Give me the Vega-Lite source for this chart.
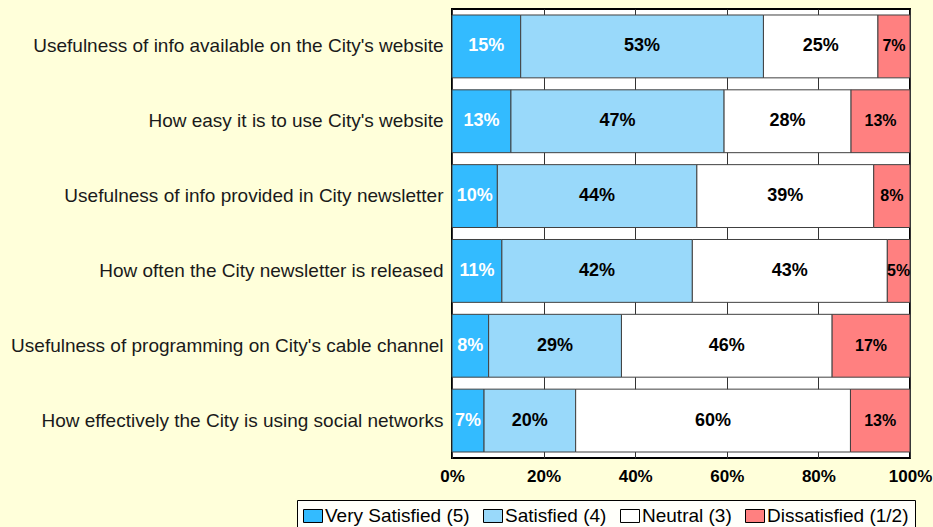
{
  "$schema": "https://vega.github.io/schema/vega-lite/v6.json",
  "width": 458,
  "height": 449,
  "autosize": {"type": "none"},
  "padding": {"left": 452, "top": 9, "right": 23, "bottom": 69},
  "background": "#FFFFDA",
  "config": {
    "font": "Liberation Sans",
    "view": {"stroke": "#000000", "strokeWidth": 2, "fill": "#FFFFFF"}
  },
  "data": {
    "values": [
      {"q": "Usefulness of info available on the City's website", "cat": "Very Satisfied (5)", "o": 1, "v": 0.15},
      {"q": "Usefulness of info available on the City's website", "cat": "Satisfied (4)", "o": 2, "v": 0.53},
      {"q": "Usefulness of info available on the City's website", "cat": "Neutral (3)", "o": 3, "v": 0.25},
      {"q": "Usefulness of info available on the City's website", "cat": "Dissatisfied (1/2)", "o": 4, "v": 0.07},
      {"q": "How easy it is to use City's website", "cat": "Very Satisfied (5)", "o": 1, "v": 0.13},
      {"q": "How easy it is to use City's website", "cat": "Satisfied (4)", "o": 2, "v": 0.47},
      {"q": "How easy it is to use City's website", "cat": "Neutral (3)", "o": 3, "v": 0.28},
      {"q": "How easy it is to use City's website", "cat": "Dissatisfied (1/2)", "o": 4, "v": 0.13},
      {"q": "Usefulness of info provided in City newsletter", "cat": "Very Satisfied (5)", "o": 1, "v": 0.10},
      {"q": "Usefulness of info provided in City newsletter", "cat": "Satisfied (4)", "o": 2, "v": 0.44},
      {"q": "Usefulness of info provided in City newsletter", "cat": "Neutral (3)", "o": 3, "v": 0.39},
      {"q": "Usefulness of info provided in City newsletter", "cat": "Dissatisfied (1/2)", "o": 4, "v": 0.08},
      {"q": "How often the City newsletter is released", "cat": "Very Satisfied (5)", "o": 1, "v": 0.11},
      {"q": "How often the City newsletter is released", "cat": "Satisfied (4)", "o": 2, "v": 0.42},
      {"q": "How often the City newsletter is released", "cat": "Neutral (3)", "o": 3, "v": 0.43},
      {"q": "How often the City newsletter is released", "cat": "Dissatisfied (1/2)", "o": 4, "v": 0.05},
      {"q": "Usefulness of programming on City's cable channel", "cat": "Very Satisfied (5)", "o": 1, "v": 0.08},
      {"q": "Usefulness of programming on City's cable channel", "cat": "Satisfied (4)", "o": 2, "v": 0.29},
      {"q": "Usefulness of programming on City's cable channel", "cat": "Neutral (3)", "o": 3, "v": 0.46},
      {"q": "Usefulness of programming on City's cable channel", "cat": "Dissatisfied (1/2)", "o": 4, "v": 0.17},
      {"q": "How effectively the City is using social networks", "cat": "Very Satisfied (5)", "o": 1, "v": 0.07},
      {"q": "How effectively the City is using social networks", "cat": "Satisfied (4)", "o": 2, "v": 0.20},
      {"q": "How effectively the City is using social networks", "cat": "Neutral (3)", "o": 3, "v": 0.60},
      {"q": "How effectively the City is using social networks", "cat": "Dissatisfied (1/2)", "o": 4, "v": 0.13}
    ]
  },
  "encoding": {
    "y": {
      "field": "q",
      "type": "nominal",
      "sort": null,
      "scale": {"paddingInner": 0.16, "paddingOuter": 0.08},
      "axis": {
        "title": null,
        "domain": false,
        "ticks": false,
        "labelFontSize": 19,
        "labelColor": "#1a1a1a",
        "labelPadding": 9,
        "labelLimit": 600
      }
    }
  },
  "layer": [
    {
      "mark": {"type": "bar", "stroke": "#404040", "strokeWidth": 1},
      "encoding": {
        "x": {
          "field": "v",
          "type": "quantitative",
          "stack": "normalize",
          "scale": {"domain": [0, 1]},
          "axis": {
            "title": null,
            "format": ".0%",
            "values": [0, 0.2, 0.4, 0.6, 0.8, 1],
            "domain": false,
            "ticks": false,
            "grid": true,
            "gridColor": "#333333",
            "gridWidth": 1,
            "labelFontSize": 17,
            "labelFontWeight": "bold",
            "labelColor": "#000000",
            "labelPadding": 10,
            "labelFlush": false
          }
        },
        "order": {"field": "o", "type": "quantitative"},
        "color": {
          "field": "cat",
          "type": "nominal",
          "sort": null,
          "scale": {
            "domain": ["Very Satisfied (5)", "Satisfied (4)", "Neutral (3)", "Dissatisfied (1/2)"],
            "range": ["#33BBFF", "#99D9FA", "#FFFFFF", "#FF8080"]
          },
          "legend": {
            "title": null,
            "orient": "none",
            "legendX": -155,
            "legendY": 491,
            "direction": "horizontal",
            "columns": 4,
            "symbolType": "M-1,-0.684H1V0.684H-1Z",
            "symbolSize": 361,
            "symbolStrokeColor": "#000000",
            "symbolStrokeWidth": 1,
            "symbolOpacity": 1,
            "labelFontSize": 19,
            "labelColor": "#000000",
            "labelOffset": 2,
            "columnPadding": 11,
            "padding": 6,
            "strokeColor": "#000000",
            "fillColor": "#FFFFFA",
            "labelLimit": 300
          }
        }
      }
    },
    {
      "mark": {"type": "text", "fontWeight": "bold", "baseline": "middle", "align": "center"},
      "encoding": {
        "x": {"field": "v", "type": "quantitative", "stack": "normalize", "bandPosition": 0.5},
        "order": {"field": "o", "type": "quantitative"},
        "text": {"field": "v", "type": "quantitative", "format": ".0%"},
        "color": {
          "condition": {"test": "datum.cat === 'Very Satisfied (5)'", "value": "#FFFFFF"},
          "value": "#000000"
        },
        "size": {
          "condition": {"test": "datum.cat === 'Dissatisfied (1/2)'", "value": 16},
          "value": 18
        }
      }
    }
  ]
}
